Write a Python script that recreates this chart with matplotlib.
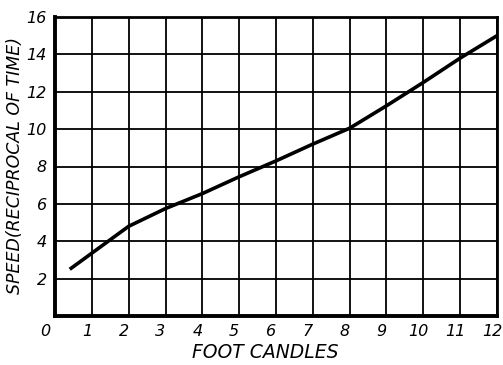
import matplotlib
matplotlib.use("Agg")
import matplotlib.pyplot as plt
from matplotlib.transforms import ScaledTranslation

# Speed vs. illumination
foot_candles = [0.4, 2, 3, 4, 5, 6, 7, 8, 9, 10, 11, 12]
speed = [2.5, 4.8, 5.75, 6.55, 7.45, 8.3, 9.2, 10.05, 11.25, 12.5, 13.8, 15.0]

x_ticks = list(range(0, 13))
y_ticks = list(range(2, 17, 2))
y_tick_labels = [str(v) for v in y_ticks]
x_tick_labels = [str(v) for v in x_ticks]

fig = plt.figure(figsize=(5.03, 3.65), dpi=100)
ax = fig.add_axes([55 / 503, 1 - 316 / 365, 442 / 503, 299 / 365])

ax.plot(foot_candles, speed, color="black", linewidth=2.6,
        solid_capstyle="butt", zorder=3)

ax.set_xlim(0, 12)
ax.set_ylim(0, 16)
ax.set_xticks(x_ticks)
ax.set_yticks(list(range(0, 17, 2)))
ax.set_xticklabels(x_tick_labels, fontsize=11.5, fontstyle="italic")
ax.set_yticklabels([""] + y_tick_labels, fontsize=11.5, fontstyle="italic")
ax.tick_params(length=0, pad=6)

# hand-lettered numerals sit a little left of their grid lines
shift = ScaledTranslation(-5 / 100, 0, fig.dpi_scale_trans)
for lbl in ax.get_xticklabels():
    lbl.set_transform(lbl.get_transform() + shift)
ax.get_xticklabels()[0].set_transform(
    ax.get_xticklabels()[0].get_transform()
    + ScaledTranslation(-5 / 100, 0, fig.dpi_scale_trans))

ax.grid(True, color="black", linewidth=1.3)
ax.set_axisbelow(True)
for side, lw in (("left", 2.8), ("bottom", 2.8), ("top", 2.0), ("right", 2.0)):
    ax.spines[side].set_linewidth(lw)
    ax.spines[side].set_color("black")

fig.text(265 / 503, 1 - 352 / 365, "FOOT CANDLES", fontsize=13.5,
         fontstyle="italic", ha="center", va="center")
fig.text(15 / 503, 1 - 165 / 365, "SPEED(RECIPROCAL OF TIME)",
         family=["Liberation Sans Narrow", "DejaVu Sans"], fontsize=12.5,
         fontstyle="italic", rotation=90, ha="center", va="center")

fig.savefig("out.png", dpi=100, facecolor="white")
